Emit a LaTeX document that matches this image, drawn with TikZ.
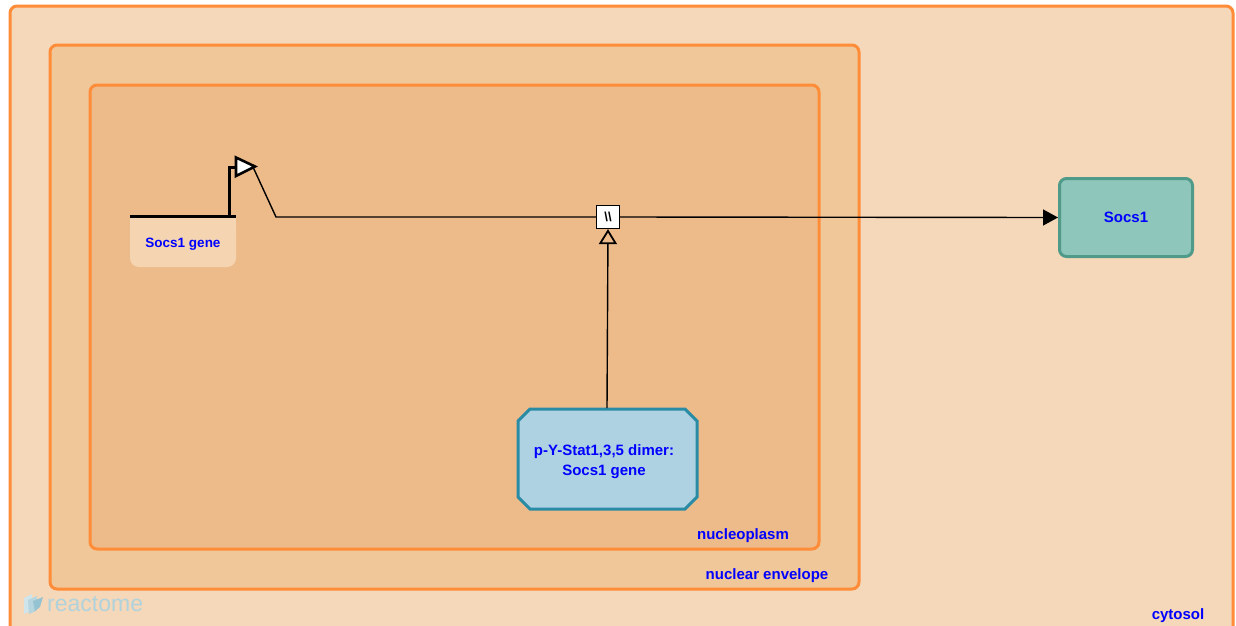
\documentclass[tikz,border=0pt]{standalone}
\usepackage{fontspec}
\setmainfont{Liberation Sans}
\usetikzlibrary{arrows.meta,shapes.geometric}
\definecolor{cytofill}{RGB}{245,216,185}
\definecolor{nefill}{RGB}{240,199,153}
\definecolor{npfill}{RGB}{237,187,138}
\definecolor{compborder}{RGB}{255,140,56}
\definecolor{lblue}{RGB}{0,0,255}
\definecolor{genefill}{RGB}{245,212,178}
\definecolor{protfill}{RGB}{142,198,187}
\definecolor{protborder}{RGB}{79,154,136}
\definecolor{cplxfill}{RGB}{174,210,226}
\definecolor{cplxborder}{RGB}{42,139,165}
\definecolor{logoc}{RGB}{150,195,210}
\tikzset{
  comp/.style={draw=compborder, line width=3pt, rounded corners=7pt},
  lbl/.style={text=lblue, font=\bfseries\fontsize{15}{18}\selectfont, inner sep=0pt},
  conn/.style={line width=1.4pt, draw=black},
}
\begin{document}
\begin{tikzpicture}[x=1pt,y=-1pt]
\useasboundingbox (0,0) rectangle (1236,625);
% compartments
\draw[comp, fill=cytofill] (10,6) rectangle (1233,640);
\draw[comp, fill=nefill] (50,45) rectangle (859,589);
\draw[comp, fill=npfill] (90,85) rectangle (819,549);
\node[lbl, anchor=base] (cyto) at (1178,619) {cytosol};
\node[lbl, anchor=base] (nelbl) at (767,579) {nuclear envelope};
\node[lbl, anchor=base] (nplbl) at (743,539) {nucleoplasm};
% reactome logo
\fill[logoc!45] (24,598) -- (32,594) -- (32,610) -- (24,614) -- cycle;
\fill[logoc!70] (28,600) -- (37,596) -- (36,611) -- (29,614) -- cycle;
\fill[logoc] (33,601) -- (43,597) -- (40,607) -- (35,611) -- cycle;
\node[text=logoc!75, font=\fontsize{23}{24}\selectfont, anchor=west, inner sep=0pt] (logo) at (47,604) {reactome};
% gene
\fill[genefill, rounded corners=9pt] (130,216) -- (130,267) -- (236,267) -- (236,216) -- cycle;
\fill[genefill] (130,216) rectangle (236,230);
\node[lbl, font=\bfseries\fontsize{13.5}{16}\selectfont] (gene) at (183,244) {Socs1 gene};
\draw[line width=3pt] (130,216) -- (236,216);
\draw[line width=3pt] (229,217.5) -- (229,167) -- (237,167);
\draw[line width=2.6pt, fill=white] (236,157.5) -- (255,166.5) -- (236,176) -- cycle;
\coordinate (genestart) at (253,167);
% process node
\node[draw=black, fill=white, line width=1.2pt, minimum size=23pt, inner sep=0pt, font=\bfseries\fontsize{13}{13}\selectfont] (proc) at (608,217) {\textbackslash\textbackslash};
% product
\node[draw=protborder, fill=protfill, line width=3pt, rounded corners=7pt, minimum width=133pt, minimum height=78pt, lbl] (socs1) at (1126,217.5) {Socs1};
% complex
\draw[draw=cplxborder, fill=cplxfill, line width=3pt]
  (530,409) -- (685,409) -- (697,421) -- (697,497) -- (685,509) -- (530,509) -- (518,497) -- (518,421) -- cycle;
\node[lbl, align=center, font=\bfseries\fontsize{15}{20}\selectfont] (cplx) at (604,462) {p-Y-Stat1,3,5 dimer:\\Socs1 gene};
\coordinate (cplxtop) at (607,408);
% connectors
\draw[conn] (genestart) -- (276,217) -- (proc.west);
\draw[conn, -{Triangle[length=15pt,width=16pt]}] (proc.east) -- (socs1.west);
\draw[conn, -{Triangle[open, length=15pt, width=18pt, line width=1.8pt]}] (cplxtop) -- (proc.south);
\end{tikzpicture}
\end{document}
